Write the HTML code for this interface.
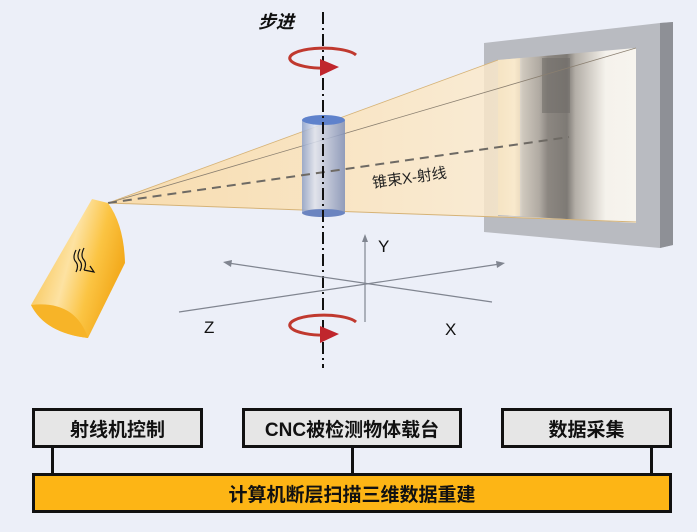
<!DOCTYPE html>
<html><head><meta charset="utf-8"><style>
html,body{margin:0;padding:0;background:#eceff8;}
body{width:697px;height:532px;position:relative;overflow:hidden;font-family:"Liberation Sans","Noto Sans CJK SC",sans-serif;}
.box{position:absolute;box-sizing:border-box;border:3px solid #111;background:#e6e6e6;font-weight:bold;font-size:19px;display:flex;align-items:center;justify-content:center;color:#111;}
.bar{background:#fdb515;}
.ln{position:absolute;width:3px;background:#111;}
</style></head><body>
<svg width="697" height="400" style="position:absolute;left:0;top:0" xmlns="http://www.w3.org/2000/svg">
<defs>
<linearGradient id="beam" x1="0" x2="1" y1="0" y2="0">
<stop offset="0" stop-color="#fbd79b"/><stop offset="1" stop-color="#fdf1dc"/>
</linearGradient>
<linearGradient id="tube" x1="0" y1="0" x2="1" y2="0.4">
<stop offset="0" stop-color="#f5b62e"/><stop offset="0.5" stop-color="#fde2a2"/><stop offset="0.75" stop-color="#fbc443"/><stop offset="1" stop-color="#f3aa1c"/>
</linearGradient>
<linearGradient id="cyl" x1="0" x2="1">
<stop offset="0" stop-color="#8da0c8"/><stop offset="0.3" stop-color="#dde3f2"/><stop offset="1" stop-color="#7f8fb8"/>
</linearGradient>
<linearGradient id="det" x1="0" x2="1">
<stop offset="0" stop-color="#efe4cf"/><stop offset="0.12" stop-color="#f6efe2"/><stop offset="0.18" stop-color="#cfc8bd"/><stop offset="0.3" stop-color="#b0aaa2"/><stop offset="0.36" stop-color="#8c8781"/><stop offset="0.5" stop-color="#7e7a75"/><stop offset="0.56" stop-color="#b3aea7"/><stop offset="0.7" stop-color="#ddd9d2"/><stop offset="0.78" stop-color="#f5f2ec"/><stop offset="1" stop-color="#f7f4ee"/>
</linearGradient>
</defs>
<!-- detector frame -->
<polygon points="484,43 660,23 673,22 673,245 660,248 484,232" fill="#b9bbc1"/>
<polygon points="660,23 673,22 673,245 660,248" fill="#8e9096"/>
<!-- beam -->
<polygon points="108,203 498,60 498,216 636,222" fill="url(#beam)" opacity="0.8"/>
<polygon points="498,60 636,48 636,223 498,215" fill="url(#det)"/>
<rect x="542" y="58" width="28" height="55" fill="#6f6b68" opacity="0.55"/>
<polygon points="498,60 520,58 520,216 498,215" fill="#fbe3b8" opacity="0.5"/>
<line x1="108" y1="203" x2="636" y2="48" stroke="#8a7f70" stroke-width="0.8"/>
<line x1="108" y1="203" x2="498" y2="60" stroke="#d6b377" stroke-width="0.8"/>
<line x1="108" y1="203" x2="636" y2="222" stroke="#d6b377" stroke-width="1"/>
<!-- cylinder -->
<rect x="302" y="120" width="43" height="93" fill="url(#cyl)" opacity="0.85"/>
<ellipse cx="323.5" cy="213" rx="21.5" ry="4" fill="#6b84c0"/>
<ellipse cx="323.5" cy="120" rx="21.5" ry="5" fill="#5f82cc"/>
<line x1="108" y1="203" x2="569" y2="137" stroke="#6e6a64" stroke-width="2" stroke-dasharray="9,6"/>
<text x="373" y="188" font-size="15" fill="#222" transform="rotate(-8 373 188)" font-family="Liberation Sans,Noto Sans CJK SC,sans-serif">锥束X-射线</text>
<!-- rotation axis -->
<line x1="323" y1="12" x2="323" y2="368" stroke="#111" stroke-width="2" stroke-dasharray="12,4,2,4"/>
<text x="258" y="28" font-size="18" font-weight="bold" font-style="italic" fill="#111" font-family="Liberation Sans,Noto Sans CJK SC,sans-serif">步进</text>
<!-- rotation arrows -->
<g fill="none" stroke="#c0392f" stroke-width="3">
<path d="M356,55 A34,10 0 1 0 330,68"/>
<path d="M356,322 A34,10 0 1 0 330,335"/>
</g>
<polygon points="320,59 339,67 320,76" fill="#c0262d"/>
<polygon points="320,326 339,334 320,343" fill="#c0262d"/>
<!-- axes -->
<g stroke="#808590" stroke-width="1.2">
<line x1="365" y1="322" x2="365" y2="238"/>
<line x1="492" y1="302" x2="228" y2="263"/>
<line x1="179" y1="312" x2="500" y2="264"/>
</g>
<polygon points="365,234 362,242 368,242" fill="#808590"/>
<polygon points="223,262 232,260 231,267" fill="#808590"/>
<polygon points="505,263 496,261 497,268" fill="#808590"/>
<text x="378" y="252" font-size="17" fill="#111">Y</text>
<text x="204" y="333" font-size="17" fill="#111">Z</text>
<text x="445" y="335" font-size="17" fill="#111">X</text>
<!-- tube -->
<path d="M92,199 L108,203 Q124,225 125,263 L88,338 Q45,333 31,305 Z" fill="url(#tube)"/>
<path d="M31,305 Q45,333 88,338 Q75,300 31,305 Z" fill="#f7b428"/>
<g stroke="#111" stroke-width="1.2" fill="none">
<path d="M76,250 q-4,8 0,12 q3,4 0,10"/><path d="M80,249 q-4,8 0,12 q3,4 0,10"/><path d="M84,248 q-4,8 0,12 q3,4 0,10"/>
<path d="M84,270 l10,2 l-4,-6"/>
</g>
</svg>
<div class="box" style="left:32px;top:408px;width:171px;height:40px;">射线机控制</div>
<div class="box" style="left:242px;top:408px;width:220px;height:40px;">CNC被检测物体载台</div>
<div class="box" style="left:501px;top:408px;width:171px;height:40px;">数据采集</div>
<div class="ln" style="left:51px;top:448px;height:25px;"></div>
<div class="ln" style="left:351px;top:448px;height:25px;"></div>
<div class="ln" style="left:650px;top:448px;height:25px;"></div>
<div class="box bar" style="left:32px;top:473px;width:640px;height:40px;">计算机断层扫描三维数据重建</div>
</body></html>
